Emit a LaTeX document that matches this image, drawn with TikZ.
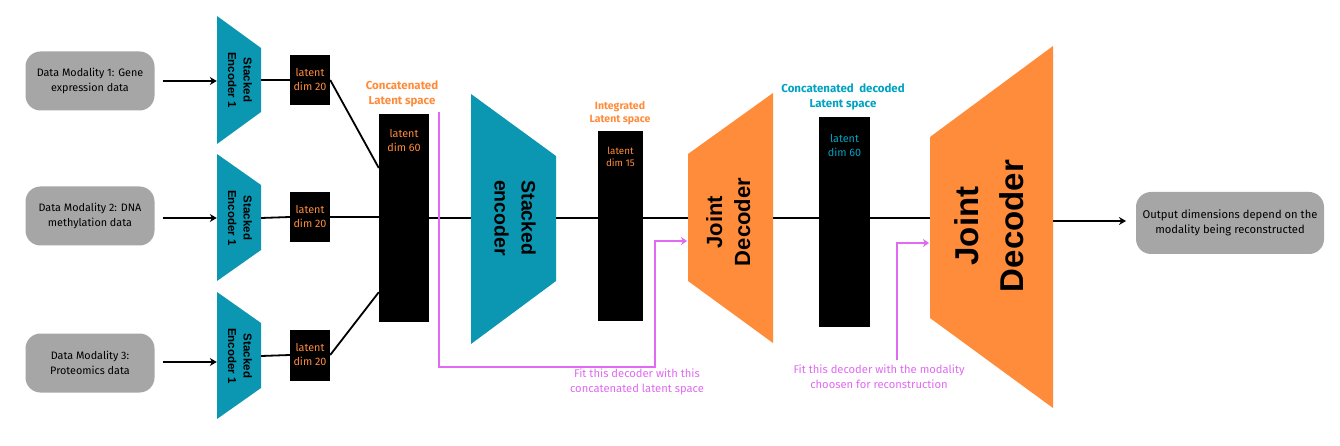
\documentclass[tikz,border=0pt]{standalone}
\usepackage{fontspec}
\setmainfont{Fira Sans}
\newfontfamily\arialf{Liberation Sans}
\usetikzlibrary{arrows.meta,calc}
\definecolor{teal1}{HTML}{0B96B1}
\definecolor{orng}{HTML}{FF8C3A}
\definecolor{gry}{HTML}{A6A6A6}
\definecolor{mag}{HTML}{E06AF2}
\definecolor{tealtxt}{HTML}{00A3C2}
\newcommand{\rotcw}[1]{\rotatebox[origin=c]{-90}{\begin{tabular}{@{}c@{}}#1\end{tabular}}}
\newcommand{\rotccw}[1]{\rotatebox[origin=c]{90}{\begin{tabular}{@{}c@{}}#1\end{tabular}}}
\begin{document}
\begin{tikzpicture}[x=1pt,y=-1pt,
  inbox/.style={draw=none,fill=gry,rounded corners=15pt,minimum width=129pt,minimum height=59pt,align=center,inner sep=0pt,font=\fontsize{10.8}{15}\selectfont},
  latbox/.style={fill=black,inner sep=0pt,align=center,text=orng},
  trapnode/.style={inner sep=0pt,text=black},
  conn/.style={line width=1.8pt,black},
  inarrow/.style={line width=2.6pt,black,-{Stealth[length=7pt,width=8pt]}},
  magline/.style={line width=1.5pt,mag,-{Stealth[length=6pt,width=8pt]}},
  toplabel/.style={align=center,inner sep=0pt,font=\bfseries\fontsize{11.5}{15}\selectfont},
  maglabel/.style={align=center,inner sep=0pt,text=mag,font=\fontsize{11.2}{15}\selectfont}
]
\useasboundingbox (0,0) rectangle (1340,446);
\fill[white] (0,0) rectangle (1340,446);

% input boxes
\node[inbox] (in1) at (90,81) {Data Modality 1: Gene\\expression data};
\node[inbox] (in2) at (90,216) {Data Modality 2: DNA\\methylation data};
\node[inbox] (in3) at (90,363) {Data Modality 3:\\Proteomics data};

% stacked encoders 1
\fill[teal1] (217,16) -- (261,48) -- (261,112) -- (217,144) -- cycle;
\fill[teal1] (217,154) -- (261,185) -- (261,250) -- (217,281) -- cycle;
\fill[teal1] (217,292) -- (261,323) -- (261,388) -- (217,419) -- cycle;
\node[trapnode,minimum width=44pt,minimum height=128pt,font=\arialf\bfseries\fontsize{11.5}{15.5}\selectfont] (e1) at (239,80) {\rotcw{Stacked\\Encoder 1}};
\node[trapnode,minimum width=44pt,minimum height=127pt,font=\arialf\bfseries\fontsize{11.5}{15.5}\selectfont] (e2) at (239,218) {\rotcw{Stacked\\Encoder 1}};
\node[trapnode,minimum width=44pt,minimum height=127pt,font=\arialf\bfseries\fontsize{11.5}{15.5}\selectfont] (e3) at (239,356) {\rotcw{Stacked\\Encoder 1}};

\path (in1.east) ++(8,0) coordinate (a1s);
\path (in2.east) ++(8,2) coordinate (a2s);
\path (in3.east) ++(8,-1) coordinate (a3s);
\draw[inarrow] (a1s) -- (a1s -| e1.west);
\draw[inarrow] (a2s) -- (a2s -| e2.west);
\draw[inarrow] (a3s) -- (a3s -| e3.west);

% latent dim 20 boxes
\node[latbox,minimum width=40pt,minimum height=50pt,font=\fontsize{10.8}{14}\selectfont] (l1) at (310,80) {latent\\dim 20};
\node[latbox,minimum width=40pt,minimum height=50pt,font=\fontsize{10.8}{14}\selectfont] (l2) at (310,217) {latent\\dim 20};
\node[latbox,minimum width=40pt,minimum height=51pt,font=\fontsize{10.8}{14}\selectfont] (l3) at (310,355) {latent\\dim 20};

\draw[conn] (e1.east) -- (l1.west);
\draw[conn] (e2.east) -- (l2.west);
\draw[conn] (e3.east) -- (l3.west);

% concatenated latent
\node[fill=black,minimum width=50pt,minimum height=208pt,inner sep=0pt] (cat) at (404,218) {};
\node[text=orng,align=center,inner sep=0pt,font=\fontsize{10.8}{14}\selectfont] (catt) at (404,141) {latent\\dim 60};
\node[toplabel,text=orng] (catl) at (402,94) {Concatenated\\Latent space};
\draw[conn] (l1.east) -- ($(cat.north west)!0.26!(cat.south west)$);
\draw[conn] (l2.east) -- (l2.east -| cat.west);
\draw[conn] (l3.east) -- ($(cat.north west)!0.856!(cat.south west)$);

% stacked encoder
\fill[teal1] (471,94) -- (556,156) -- (556,281) -- (471,344) -- cycle;
\node[trapnode,minimum width=85pt,minimum height=250pt,font=\arialf\bfseries\fontsize{19.5}{27}\selectfont] (se) at (513.5,218) {\rotcw{Stacked\\encoder}};
\draw[conn] (cat.east) -- (se.west);

% integrated latent
\node[fill=black,minimum width=45pt,minimum height=190pt,inner sep=0pt] (int) at (620.5,226) {};
\node[text=orng,align=center,inner sep=0pt,font=\fontsize{9.8}{12}\selectfont] (intt) at (620.5,157) {latent\\dim 15};
\node[toplabel,text=orng,font=\bfseries\fontsize{10.5}{13}\selectfont] (intl) at (620,113) {Integrated\\Latent space};
\draw[conn] (se.east) -- (se.east -| int.west);

% joint decoder 1
\fill[orng] (688,154) -- (773,93) -- (773,343) -- (688,281) -- cycle;
\node[trapnode,minimum width=85pt,minimum height=250pt,font=\arialf\bfseries\fontsize{22}{28}\selectfont] (jd1) at (730.5,222) {\rotccw{Joint\\Decoder}};
\draw[line width=2.6pt] (se.east -| int.east) -- (se.east -| jd1.west);

% decoded latent
\node[fill=black,minimum width=51pt,minimum height=210pt,inner sep=0pt] (dec) at (844.5,222) {};
\node[text=tealtxt,align=center,inner sep=0pt,font=\fontsize{10.8}{14}\selectfont] (dect) at (844.5,146) {latent\\dim 60};
\node[toplabel,text=tealtxt] (decl) at (843,97) {Concatenated~~decoded\\Latent space};
\draw[conn] (se.east -| jd1.east) -- (se.east -| dec.west);

% joint decoder 2
\fill[orng] (930,137) -- (1053,46) -- (1053,408) -- (930,318) -- cycle;
\node[trapnode,minimum width=123pt,minimum height=362pt,font=\arialf\bfseries\fontsize{33}{45}\selectfont] (jd2) at (991.5,226) {\rotccw{Joint\\Decoder}};
\draw[conn] (se.east -| dec.east) -- (se.east -| jd2.west);

% output
\node[inbox,minimum width=188pt,minimum height=62pt,font=\fontsize{11.2}{15}\selectfont] (out) at (1230,223) {Output dimensions depend on the\\modality being reconstructed};
\coordinate (o2) at (1126,221);
\draw[line width=2pt,-{Stealth[length=7pt,width=8pt]}] (jd2.east |- o2) -- (o2);

% magenta feedback arrows
\coordinate (m1) at (439,112);
\coordinate (m2) at (655,367);
\coordinate (m3) at (687,241);
\draw[magline] (m1) |- (m2) |- (m3);
\node[maglabel] (ml1) at (637,382) {Fit this decoder with this\\concatenated latent space};

\coordinate (n1) at (897,360);
\coordinate (n2) at (929,243);
\draw[magline] (n1) |- (n2);
\node[maglabel] (ml2) at (879,377) {Fit this decoder with the modality\\choosen for reconstruction};
\end{tikzpicture}
\end{document}
